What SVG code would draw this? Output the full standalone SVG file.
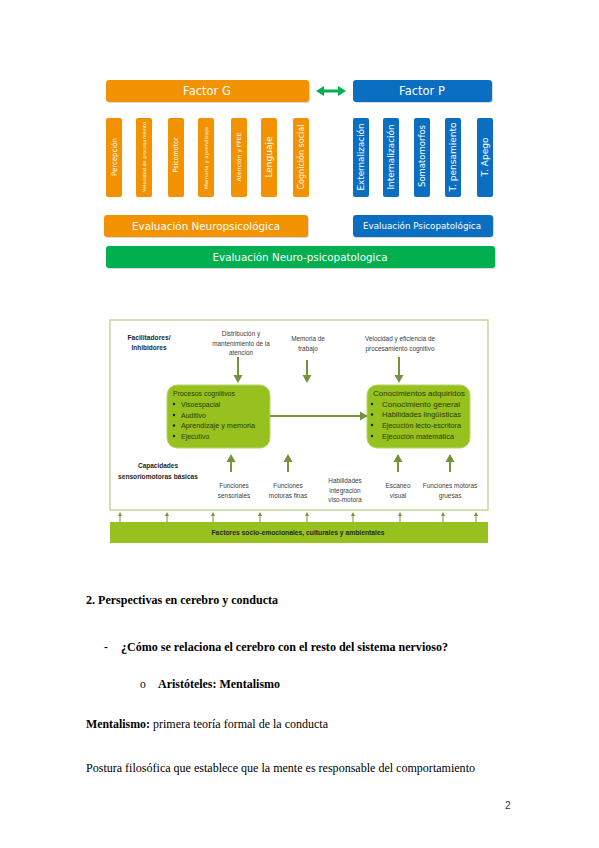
<svg xmlns="http://www.w3.org/2000/svg" width="599" height="848" viewBox="0 0 599 848">
<defs>
<style>
.bg{fill:#ffffff}
.or{fill:#F39200}
.bl{fill:#0B6FC1}
.gr{fill:#00AF50}
.sh{fill:#d9d9d9}
.wt{fill:#ffffff;font-family:"DejaVu Sans",sans-serif;text-anchor:middle;dominant-baseline:central}
.vt{fill:#ffffff;font-family:"DejaVu Sans",sans-serif;text-anchor:middle;dominant-baseline:central}
.lime{fill:#96C11E}
.box{fill:#96C11E;stroke:#B8D468;stroke-width:1}
.arr{stroke:#75923C;stroke-width:2;fill:none}
.ah{fill:#75923C}
.sm{font-family:"Liberation Sans",sans-serif;font-size:6.4px;fill:#404040;text-anchor:middle}
.bx{font-family:"Liberation Sans",sans-serif;font-size:7px;fill:#2B3A00}
.bd{font-family:"Liberation Sans",sans-serif;font-size:6.5px;font-weight:bold;fill:#262626;text-anchor:middle}
.ser{font-family:"Liberation Serif",serif;font-size:11.5px;fill:#000}
.b{font-weight:bold}
</style>
</defs>
<rect class="bg" x="0" y="0" width="599" height="848"/>

<!-- Figure 1 -->
<g id="factorG">
<rect class="sh" x="107" y="81" width="203" height="22" rx="3"/>
<rect class="or" x="106" y="80" width="203" height="22" rx="3"/>
<text class="wt" x="207" y="91" font-size="11.5">Factor G</text>
</g>
<g id="factorP">
<rect class="sh" x="354" y="81" width="139" height="22" rx="3"/>
<rect class="bl" x="353" y="80" width="139" height="22" rx="3"/>
<text class="wt" x="422" y="91" font-size="11.5">Factor P</text>
</g>
<g id="connectors1">
<line x1="322" y1="91" x2="340" y2="91" stroke="#00AF50" stroke-width="3"/>
<polygon points="316,91 324,86 324,96" fill="#00AF50"/>
<polygon points="346,91 338,86 338,96" fill="#00AF50"/>
</g>

<g id="g-bars">
<rect class="or" x="106" y="118" width="16" height="79" rx="2"/>
<text class="vt" transform="translate(114,157) rotate(-90)" font-size="7.5" textLength="38" lengthAdjust="spacingAndGlyphs">Percepción</text>
<rect class="or" x="136" y="118" width="16" height="79" rx="2"/>
<text class="vt" transform="translate(144,157) rotate(-90)" font-size="4.5" textLength="70" lengthAdjust="spacingAndGlyphs">Velocidad de procesamiento</text>
<rect class="or" x="168" y="118" width="16" height="79" rx="2"/>
<text class="vt" transform="translate(176,155) rotate(-90)" font-size="7" textLength="35" lengthAdjust="spacingAndGlyphs">Psicomotor</text>
<rect class="or" x="198" y="118" width="16" height="79" rx="2"/>
<text class="vt" transform="translate(206,158) rotate(-90)" font-size="4.5" textLength="62" lengthAdjust="spacingAndGlyphs">Memoria y aprendizaje</text>
<rect class="or" x="231" y="118" width="16" height="79" rx="2"/>
<text class="vt" transform="translate(239,157) rotate(-90)" font-size="5.5" textLength="49" lengthAdjust="spacingAndGlyphs">Atención y FFEE</text>
<rect class="or" x="261" y="118" width="16" height="79" rx="2"/>
<text class="vt" transform="translate(269,157) rotate(-90)" font-size="9" textLength="41" lengthAdjust="spacingAndGlyphs">Lenguaje</text>
<rect class="or" x="293" y="118" width="16" height="79" rx="2"/>
<text class="vt" transform="translate(301,157) rotate(-90)" font-size="8" textLength="65" lengthAdjust="spacingAndGlyphs">Cognición social</text>
</g>
<g id="p-bars">
<rect class="bl" x="353" y="118" width="16" height="79" rx="2"/>
<text class="vt" transform="translate(361,157) rotate(-90)" font-size="8.5" textLength="67" lengthAdjust="spacingAndGlyphs">Externalización</text>
<rect class="bl" x="383" y="118" width="16" height="79" rx="2"/>
<text class="vt" transform="translate(391,157) rotate(-90)" font-size="8.5" textLength="65" lengthAdjust="spacingAndGlyphs">Internalización</text>
<rect class="bl" x="414" y="118" width="16" height="79" rx="2"/>
<text class="vt" transform="translate(422,156) rotate(-90)" font-size="8.5" textLength="62" lengthAdjust="spacingAndGlyphs">Somatomorfos</text>
<rect class="bl" x="445" y="118" width="16" height="79" rx="2"/>
<text class="vt" transform="translate(453,157) rotate(-90)" font-size="8.5" textLength="69" lengthAdjust="spacingAndGlyphs">T. pensamiento</text>
<rect class="bl" x="477" y="118" width="16" height="79" rx="2"/>
<text class="vt" transform="translate(485,157) rotate(-90)" font-size="8.5" textLength="39" lengthAdjust="spacingAndGlyphs">T. Apego</text>
</g>

<g id="evalNeuro">
<rect class="sh" x="105" y="216" width="204" height="22" rx="3"/>
<rect class="or" x="104" y="215" width="204" height="22" rx="3"/>
<text class="wt" x="206" y="226" font-size="10" textLength="148" lengthAdjust="spacingAndGlyphs">Evaluación Neuropsicológica</text>
</g>
<g id="evalPsico">
<rect class="sh" x="354" y="216" width="140" height="22" rx="3"/>
<rect class="bl" x="353" y="215" width="140" height="22" rx="3"/>
<text class="wt" x="422" y="226" font-size="8.5" textLength="118" lengthAdjust="spacingAndGlyphs">Evaluación Psicopatológica</text>
</g>
<g id="evalNeuroPsico">
<rect class="sh" x="107" y="247" width="389" height="22" rx="3"/>
<rect class="gr" x="106" y="246" width="389" height="22" rx="3"/>
<text class="wt" x="300" y="257" font-size="10" textLength="175" lengthAdjust="spacingAndGlyphs">Evaluación Neuro-psicopatologica</text>
</g>

<!-- Figure 2 -->
<g id="frame">
<rect x="110" y="320" width="378" height="190" fill="#ffffff" stroke="#C4D69A" stroke-width="1.5"/>
</g>
<g id="facilitadores">
<text class="bd" x="149" y="340"><tspan x="149" textLength="43" lengthAdjust="spacingAndGlyphs">Facilitadores/</tspan><tspan x="149" dy="10">Inhibidores</tspan></text>
</g>
<g id="atencion">
<text class="sm" x="241" y="336"><tspan x="241">Distribución y</tspan><tspan x="241" dy="9.5">mantenimiento de la</tspan><tspan x="241" dy="9.5">atención</tspan></text>
</g>
<g id="memoria">
<text class="sm" x="308" y="341"><tspan x="308">Memoria de</tspan><tspan x="308" dy="9.5">trabajo</tspan></text>
</g>
<g id="velocidad">
<text class="sm" x="400" y="341"><tspan x="400">Velocidad y eficiencia de</tspan><tspan x="400" dy="9.5">procesamiento cognitivo</tspan></text>
</g>
<g id="procesos">
<rect class="box" x="167" y="385" width="103" height="63" rx="10"/>
<text class="bx" x="173" y="396" textLength="62" lengthAdjust="spacingAndGlyphs">Procesos cognitivos</text>
<g class="bx">
<circle cx="174" cy="404" r="1.2" fill="#1a1a1a"/><text x="181" y="406.5">Visoespacial</text>
<circle cx="174" cy="415" r="1.2" fill="#1a1a1a"/><text x="181" y="417.5">Auditivo</text>
<circle cx="174" cy="425.5" r="1.2" fill="#1a1a1a"/><text x="181" y="428" textLength="74" lengthAdjust="spacingAndGlyphs">Aprendizaje y memoria</text>
<circle cx="174" cy="436" r="1.2" fill="#1a1a1a"/><text x="181" y="438.5">Ejecutivo</text>
</g>
</g>
<g id="conocimientos">
<rect class="box" x="367" y="385" width="103" height="63" rx="10"/>
<text class="bx" x="373" y="396" textLength="92" lengthAdjust="spacingAndGlyphs">Conocimientos adquiridos</text>
<g class="bx">
<circle cx="372" cy="404" r="1.2" fill="#1a1a1a"/><text x="382" y="406.5" textLength="78" lengthAdjust="spacingAndGlyphs">Conocimiento general</text>
<circle cx="372" cy="414.5" r="1.2" fill="#1a1a1a"/><text x="382" y="417" textLength="79" lengthAdjust="spacingAndGlyphs">Habilidades lingüísticas</text>
<circle cx="372" cy="425" r="1.2" fill="#1a1a1a"/><text x="382" y="427.5" textLength="79" lengthAdjust="spacingAndGlyphs">Ejecución lecto-escritora</text>
<circle cx="372" cy="436" r="1.2" fill="#1a1a1a"/><text x="382" y="438.5" textLength="72" lengthAdjust="spacingAndGlyphs">Ejecución matemática</text>
</g>
</g>
<g id="capacidades">
<text class="bd" x="158" y="468"><tspan x="158">Capacidades</tspan><tspan x="158" dy="10.5" textLength="80" lengthAdjust="spacingAndGlyphs">sensoriomotoras básicas</tspan></text>
</g>
<g id="sensoriales"><text class="sm" x="234" y="488"><tspan x="234">Funciones</tspan><tspan x="234" dy="10">sensoriales</tspan></text></g>
<g id="finas"><text class="sm" x="288" y="488"><tspan x="288">Funciones</tspan><tspan x="288" dy="10">motoras finas</tspan></text></g>
<g id="visomotora"><text class="sm" x="345" y="483"><tspan x="345">Habilidades</tspan><tspan x="345" dy="9.5">integración</tspan><tspan x="345" dy="9.5">viso-motora</tspan></text></g>
<g id="escaneo"><text class="sm" x="398" y="488"><tspan x="398">Escaneo</tspan><tspan x="398" dy="10">visual</tspan></text></g>
<g id="gruesas"><text class="sm" x="450" y="488"><tspan x="450">Funciones motoras</tspan><tspan x="450" dy="10">gruesas</tspan></text></g>
<g id="factores">
<rect class="lime" x="110" y="522" width="378" height="21"/>
<text class="bd" x="298" y="534.5" textLength="173" lengthAdjust="spacingAndGlyphs">Factores socio-emocionales, culturales y ambientales</text>
</g>
<g id="connectors2">
<line class="arr" x1="238" y1="357" x2="238" y2="376"/><polygon class="ah" points="233.5,375 242.5,375 238,383"/>
<line class="arr" x1="307" y1="360" x2="307" y2="376"/><polygon class="ah" points="302.5,375 311.5,375 307,383"/>
<line class="arr" x1="399" y1="357" x2="399" y2="376"/><polygon class="ah" points="394.5,375 403.5,375 399,383"/>
<line class="arr" x1="270" y1="416" x2="361" y2="416"/><polygon class="ah" points="360,411.5 360,420.5 368,416"/>
<line class="arr" x1="231" y1="472" x2="231" y2="461"/><polygon class="ah" points="226.5,462 235.5,462 231,454"/>
<line class="arr" x1="288" y1="472" x2="288" y2="461"/><polygon class="ah" points="283.5,462 292.5,462 288,454"/>
<line class="arr" x1="398" y1="472" x2="398" y2="461"/><polygon class="ah" points="393.5,462 402.5,462 398,454"/>
<line class="arr" x1="450" y1="472" x2="450" y2="461"/><polygon class="ah" points="445.5,462 454.5,462 450,454"/>
<g>
<line x1="120" y1="522" x2="120" y2="515" stroke="#75923C" stroke-width="1"/><polygon class="ah" points="118,516 122,516 120,512"/>
<line x1="167" y1="522" x2="167" y2="515" stroke="#75923C" stroke-width="1"/><polygon class="ah" points="165,516 169,516 167,512"/>
<line x1="213" y1="522" x2="213" y2="515" stroke="#75923C" stroke-width="1"/><polygon class="ah" points="211,516 215,516 213,512"/>
<line x1="260" y1="522" x2="260" y2="515" stroke="#75923C" stroke-width="1"/><polygon class="ah" points="258,516 262,516 260,512"/>
<line x1="307" y1="522" x2="307" y2="515" stroke="#75923C" stroke-width="1"/><polygon class="ah" points="305,516 309,516 307,512"/>
<line x1="353" y1="522" x2="353" y2="515" stroke="#75923C" stroke-width="1"/><polygon class="ah" points="351,516 355,516 353,512"/>
<line x1="400" y1="522" x2="400" y2="515" stroke="#75923C" stroke-width="1"/><polygon class="ah" points="398,516 402,516 400,512"/>
<line x1="443" y1="522" x2="443" y2="515" stroke="#75923C" stroke-width="1"/><polygon class="ah" points="441,516 445,516 443,512"/>
<line x1="476" y1="522" x2="476" y2="515" stroke="#75923C" stroke-width="1"/><polygon class="ah" points="474,516 478,516 476,512"/>
</g>
</g>

<!-- Text section -->
<g id="texto">
<text class="ser b" x="86" y="604" textLength="192" lengthAdjust="spacingAndGlyphs">2. Perspectivas en cerebro y conducta</text>
<text class="ser b" x="104" y="651">-</text>
<text class="ser b" x="121" y="651" textLength="327" lengthAdjust="spacingAndGlyphs">¿Cómo se relaciona el cerebro con el resto del sistema nervioso?</text>
<text class="ser" x="140" y="688" font-size="10">o</text>
<text class="ser b" x="158" y="688" textLength="122" lengthAdjust="spacingAndGlyphs">Aristóteles: Mentalismo</text>
<text class="ser b" x="86" y="728" textLength="64" lengthAdjust="spacingAndGlyphs">Mentalismo:</text>
<text class="ser" x="153" y="728" textLength="175" lengthAdjust="spacingAndGlyphs">primera teoría formal de la conducta</text>
<text class="ser" x="86" y="772" textLength="389" lengthAdjust="spacingAndGlyphs">Postura filosófica que establece que la mente es responsable del comportamiento</text>
<text x="505" y="809" font-family="'Liberation Sans',sans-serif" font-size="10" fill="#333">2</text>
</g>
</svg>
